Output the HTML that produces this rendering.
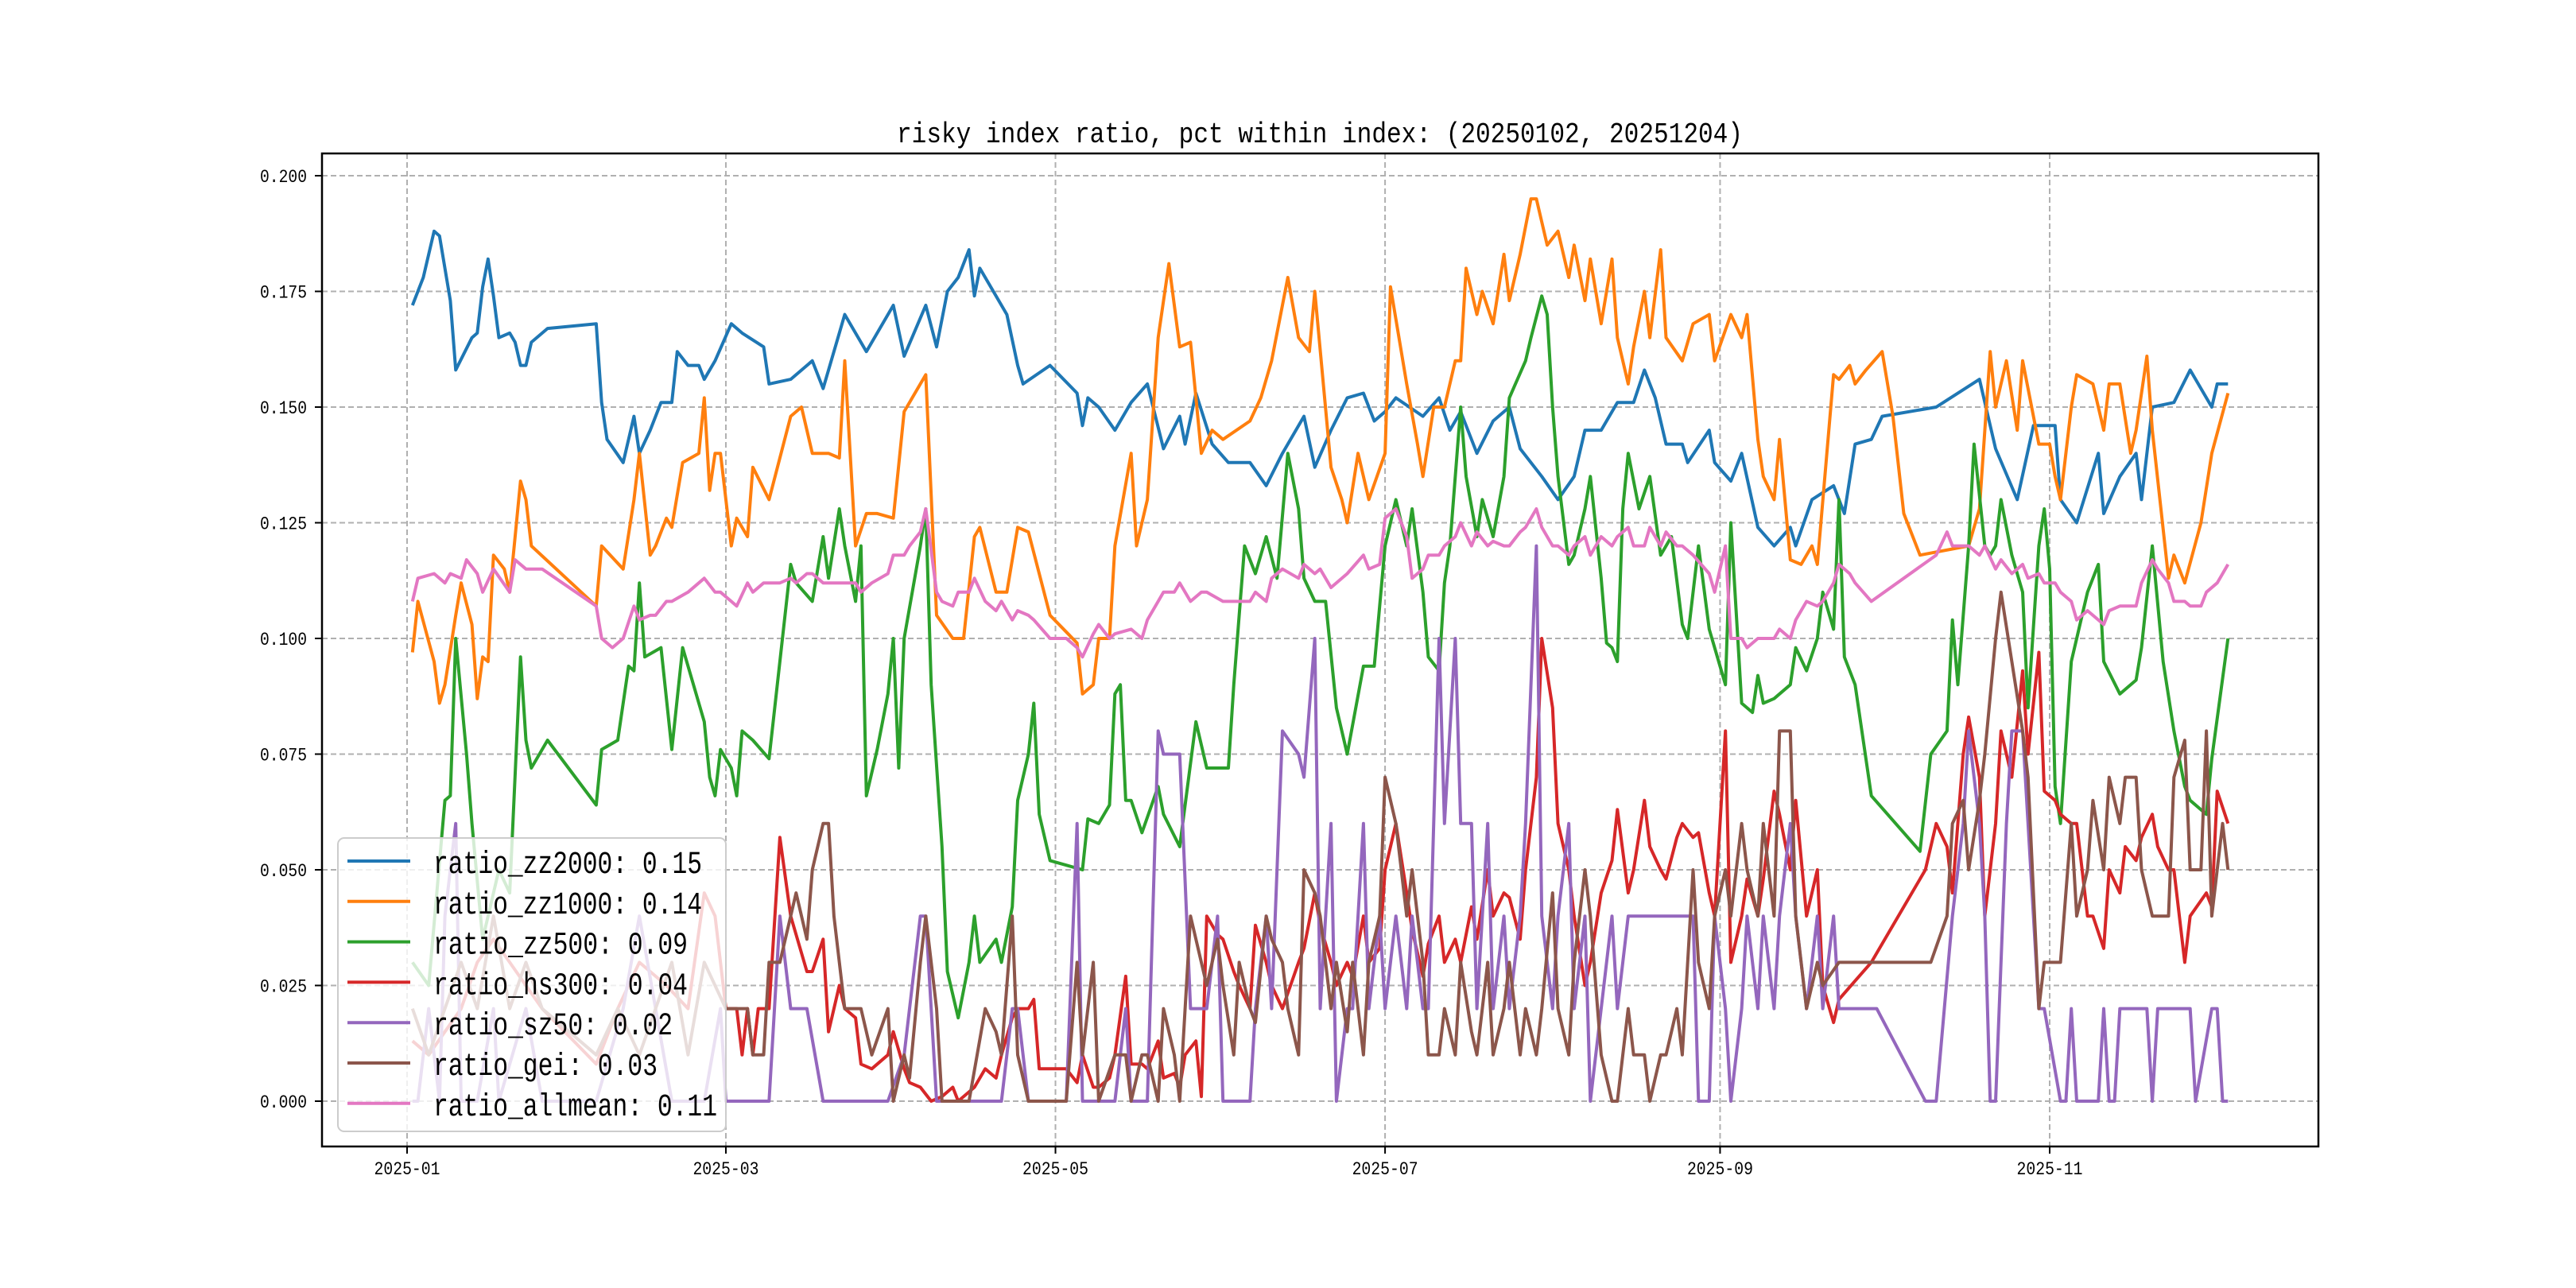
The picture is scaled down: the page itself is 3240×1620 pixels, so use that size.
<!DOCTYPE html>
<html><head><meta charset="utf-8">
<style>
html,body{margin:0;padding:0;background:#fff;}
svg{display:block;}
text{font-family:"Liberation Mono","Noto Sans CJK SC",monospace;fill:#000;}
</style></head>
<body>
<svg id="chart" width="3240" height="1620" viewBox="0 0 3240 1620" xmlns="http://www.w3.org/2000/svg">
<rect x="0" y="0" width="3240" height="1620" fill="#fff"/>
<g id="grid"></g>
<g id="series"></g>
<rect x="405" y="193" width="2511" height="1249" fill="none" stroke="#000" stroke-width="2.5"/>
<g id="axes"></g>
<text x="1660" y="179" text-anchor="middle" font-size="36" textLength="1064" lengthAdjust="spacingAndGlyphs">risky index ratio, pct within index: (20250102, 20251204)</text>
<g id="legend"></g>
</svg>
<script>
// x values are day-of-year offsets from 2025-01-01
const monthTickDays = [0, 59, 120, 181, 243, 304];
const monthTickLabels = ["2025-01", "2025-03", "2025-05", "2025-07", "2025-09", "2025-11"];
const yTickValues = [0, 0.025, 0.05, 0.075, 0.1, 0.125, 0.15, 0.175, 0.2];
const yTickLabels = ["0.000", "0.025", "0.050", "0.075", "0.100", "0.125", "0.150", "0.175", "0.200"];
const seriesNames = ["ratio_zz2000", "ratio_zz1000", "ratio_zz500", "ratio_hs300", "ratio_sz50", "ratio_gei", "ratio_allmean"];
const legendValues = ["0.15", "0.14", "0.09", "0.04", "0.02", "0.03", "0.11"];

const zz2000Days = [1,3,5,6,8,9,12,13,14,15,16,17,19,20,21,22,23,26,35,36,37,40,42,43,45,47,49,50,52,54,55,57,60,62,66,67,71,75,77,81,85,90,92,96,98,100,102,104,105,106,111,113,114,119,124,125,126,128,131,134,137,140,143,144,146,149,152,156,159,162,166,168,171,174,177,179,181,183,188,191,193,195,198,201,204,206,210,213,216,218,221,224,227,229,231,233,236,237,241,242,245,247,250,253,256,257,260,264,266,268,271,273,283,291,294,298,301,305,306,309,313,314,317,320,321,323,327,330,334,335,337];
const zz2000Vals = [0.172,0.178,0.188,0.187,0.173,0.158,0.165,0.166,0.176,0.182,0.174,0.165,0.166,0.164,0.159,0.159,0.164,0.167,0.168,0.151,0.143,0.138,0.148,0.14,0.145,0.151,0.151,0.162,0.159,0.159,0.156,0.16,0.168,0.166,0.163,0.155,0.156,0.16,0.154,0.17,0.162,0.172,0.161,0.172,0.163,0.175,0.178,0.184,0.174,0.18,0.17,0.159,0.155,0.159,0.153,0.146,0.152,0.15,0.145,0.151,0.155,0.141,0.148,0.142,0.153,0.142,0.138,0.138,0.133,0.14,0.148,0.137,0.145,0.152,0.153,0.147,0.149,0.152,0.148,0.152,0.145,0.149,0.14,0.147,0.15,0.141,0.135,0.13,0.135,0.145,0.145,0.151,0.151,0.158,0.152,0.142,0.142,0.138,0.145,0.138,0.134,0.14,0.124,0.12,0.124,0.12,0.13,0.133,0.127,0.142,0.143,0.148,0.15,0.156,0.141,0.13,0.146,0.146,0.13,0.125,0.14,0.127,0.135,0.14,0.13,0.15,0.151,0.158,0.15,0.155,0.155];

const zz1000Days = [1,2,5,6,7,9,10,12,13,14,15,16,18,19,21,22,23,35,36,40,42,43,45,46,48,49,51,54,55,56,57,58,60,61,63,64,67,71,73,75,78,80,81,83,85,87,90,92,95,96,98,101,103,105,106,109,111,113,115,119,124,125,127,128,130,131,134,135,137,139,141,143,145,147,149,151,156,158,160,163,165,167,168,171,173,174,176,178,181,182,185,187,188,190,192,194,195,196,198,199,201,203,204,206,208,209,211,213,215,216,218,219,221,222,223,224,226,227,229,230,232,233,236,238,241,242,245,247,248,250,251,253,254,256,258,260,261,264,265,267,268,270,273,275,277,280,289,291,293,294,296,298,299,301,302,304,305,306,308,309,312,314,315,317,319,320,322,323,326,327,329,332,334,337];
const zz1000Vals = [0.097,0.108,0.095,0.086,0.09,0.105,0.112,0.103,0.087,0.096,0.095,0.118,0.115,0.11,0.134,0.13,0.12,0.107,0.12,0.115,0.13,0.14,0.118,0.12,0.126,0.124,0.138,0.14,0.152,0.132,0.14,0.14,0.12,0.126,0.122,0.137,0.13,0.148,0.15,0.14,0.14,0.139,0.16,0.12,0.127,0.127,0.126,0.149,0.155,0.157,0.105,0.1,0.1,0.122,0.124,0.11,0.11,0.124,0.123,0.105,0.099,0.088,0.09,0.1,0.1,0.12,0.14,0.12,0.13,0.165,0.181,0.163,0.164,0.14,0.145,0.143,0.147,0.152,0.16,0.178,0.165,0.162,0.175,0.137,0.13,0.125,0.14,0.13,0.14,0.176,0.155,0.142,0.135,0.15,0.15,0.16,0.16,0.18,0.17,0.175,0.168,0.183,0.173,0.183,0.195,0.195,0.185,0.188,0.178,0.185,0.173,0.182,0.168,0.175,0.182,0.165,0.155,0.163,0.175,0.165,0.184,0.165,0.16,0.168,0.17,0.16,0.17,0.165,0.17,0.143,0.135,0.13,0.143,0.117,0.116,0.12,0.116,0.157,0.156,0.159,0.155,0.158,0.162,0.148,0.127,0.118,0.12,0.128,0.162,0.15,0.16,0.145,0.16,0.148,0.142,0.142,0.135,0.13,0.15,0.157,0.155,0.145,0.155,0.155,0.14,0.145,0.161,0.145,0.113,0.118,0.112,0.125,0.14,0.153];

const zz500Days = [1,4,7,8,9,11,12,14,17,19,21,22,23,26,35,36,39,41,42,43,44,47,49,51,55,56,57,58,60,61,62,64,67,71,72,75,77,78,80,81,83,84,85,87,89,90,91,92,95,96,97,99,100,102,104,105,106,109,110,112,113,115,116,117,119,122,125,126,128,130,131,132,133,134,136,139,140,143,146,148,152,153,155,157,159,161,163,165,166,168,170,172,174,177,179,181,183,185,186,188,189,191,192,193,195,196,198,199,201,203,204,207,208,210,211,212,213,215,216,218,219,221,222,223,224,225,226,228,230,232,234,236,237,239,241,242,244,245,247,249,250,251,253,256,257,259,261,262,264,265,266,268,271,280,282,285,286,287,289,290,292,293,294,295,297,299,300,302,303,304,305,306,308,309,311,313,314,317,320,321,323,325,327,329,330,333,334,337];
const zz500Vals = [0.03,0.025,0.065,0.066,0.1,0.075,0.06,0.035,0.05,0.045,0.096,0.078,0.072,0.078,0.064,0.076,0.078,0.094,0.093,0.112,0.096,0.098,0.076,0.098,0.082,0.07,0.066,0.076,0.072,0.066,0.08,0.078,0.074,0.116,0.112,0.108,0.122,0.113,0.128,0.12,0.108,0.12,0.066,0.076,0.088,0.1,0.072,0.1,0.12,0.128,0.09,0.055,0.028,0.018,0.03,0.04,0.03,0.035,0.03,0.042,0.065,0.075,0.086,0.062,0.052,0.051,0.05,0.061,0.06,0.064,0.088,0.09,0.065,0.065,0.058,0.068,0.062,0.055,0.082,0.072,0.072,0.09,0.12,0.114,0.122,0.113,0.14,0.128,0.113,0.108,0.108,0.085,0.075,0.094,0.094,0.12,0.13,0.12,0.128,0.11,0.096,0.093,0.112,0.12,0.15,0.135,0.122,0.13,0.122,0.135,0.152,0.16,0.165,0.174,0.17,0.15,0.135,0.116,0.118,0.128,0.135,0.113,0.099,0.098,0.095,0.128,0.14,0.128,0.135,0.118,0.122,0.103,0.1,0.12,0.102,0.098,0.09,0.125,0.086,0.084,0.092,0.086,0.087,0.09,0.098,0.093,0.1,0.11,0.102,0.13,0.096,0.09,0.066,0.054,0.075,0.08,0.104,0.09,0.12,0.142,0.12,0.118,0.12,0.13,0.118,0.11,0.085,0.12,0.128,0.115,0.068,0.06,0.095,0.1,0.11,0.116,0.095,0.088,0.091,0.098,0.12,0.095,0.08,0.068,0.065,0.062,0.074,0.1];

const hs300Days = [1,4,7,10,13,16,19,22,25,35,39,43,48,52,55,57,59,61,62,63,64,65,67,69,71,74,75,77,78,80,81,83,84,86,89,90,92,93,95,97,99,101,102,104,105,107,109,110,112,113,115,116,117,119,122,124,125,127,128,130,131,133,134,136,137,139,140,142,143,144,146,147,148,150,151,153,154,156,157,159,160,162,165,166,168,169,171,172,174,175,177,178,180,181,183,185,186,188,189,191,192,194,195,197,198,200,201,203,204,206,207,209,210,212,213,215,216,218,219,221,223,224,226,227,229,230,232,233,235,236,238,239,241,242,244,245,247,248,250,251,253,254,256,257,259,261,262,264,265,268,271,281,283,285,286,288,289,291,292,294,295,297,299,300,302,303,305,306,308,309,311,312,314,315,317,318,320,321,323,324,326,327,329,330,333,334,335,337];
const hs300Vals = [0.013,0.01,0.015,0.02,0.03,0.035,0.03,0.025,0.02,0.008,0.02,0.03,0.025,0.02,0.045,0.04,0.02,0.02,0.01,0.02,0.01,0.02,0.02,0.057,0.04,0.028,0.028,0.035,0.015,0.025,0.02,0.018,0.008,0.007,0.01,0.015,0.007,0.004,0.003,0,0.001,0.003,0,0.002,0.003,0.007,0.005,0.01,0.018,0.02,0.02,0.022,0.007,0.007,0.007,0.004,0.01,0.003,0.003,0.005,0.01,0.027,0.008,0.008,0.007,0.013,0.005,0.006,0.003,0.01,0.013,0.001,0.04,0.036,0.035,0.028,0.025,0.02,0.038,0.03,0.025,0.02,0.03,0.033,0.045,0.038,0.03,0.025,0.03,0.027,0.04,0.03,0.033,0.05,0.06,0.045,0.037,0.027,0.034,0.04,0.03,0.035,0.03,0.042,0.035,0.05,0.04,0.045,0.044,0.035,0.05,0.07,0.1,0.085,0.06,0.05,0.04,0.025,0.03,0.045,0.052,0.063,0.045,0.05,0.065,0.055,0.05,0.048,0.057,0.06,0.057,0.058,0.045,0.04,0.08,0.03,0.04,0.048,0.04,0.048,0.067,0.062,0.05,0.065,0.04,0.05,0.025,0.017,0.022,0.026,0.03,0.05,0.06,0.055,0.045,0.075,0.083,0.07,0.04,0.06,0.08,0.07,0.093,0.075,0.097,0.067,0.065,0.062,0.06,0.06,0.04,0.04,0.033,0.05,0.045,0.055,0.052,0.057,0.062,0.055,0.05,0.05,0.03,0.04,0.045,0.042,0.067,0.06];

const sz50Days = [1,2,4,6,7,9,10,13,16,17,22,25,35,40,43,46,49,55,58,59,66,67,69,71,74,77,89,92,93,95,96,98,110,112,113,115,122,124,125,131,133,134,137,139,140,143,145,147,148,150,151,156,157,159,160,162,165,166,168,169,171,172,174,175,177,178,180,181,183,185,186,188,189,191,192,194,195,197,198,200,201,203,204,206,207,209,210,212,213,215,216,218,219,221,223,224,226,227,229,232,235,238,239,241,242,244,245,247,248,250,251,253,254,256,257,259,261,262,264,265,268,272,281,283,286,288,289,291,292,293,294,296,297,299,300,302,303,306,307,308,309,313,314,315,316,317,322,323,324,330,331,334,335,336,337];
const sz50Vals = [0,0,0.02,0,0.04,0.06,0,0,0.02,0,0.02,0,0,0.02,0.04,0.02,0,0,0.02,0,0,0,0.04,0.02,0.02,0,0,0.01,0.02,0.04,0.04,0,0,0.02,0.02,0,0,0.06,0,0,0.02,0,0,0.08,0.075,0.075,0.02,0.02,0.02,0.04,0,0,0.02,0.04,0.02,0.08,0.075,0.07,0.1,0.02,0.06,0,0.02,0.02,0.06,0.02,0.04,0.02,0.04,0.02,0.04,0.02,0.02,0.1,0.06,0.1,0.06,0.06,0.02,0.06,0.02,0.04,0.02,0.04,0.06,0.12,0.04,0.02,0.04,0.06,0.02,0.04,0,0.02,0.04,0.02,0.04,0.04,0.04,0.04,0.04,0.04,0,0,0.04,0.02,0,0.02,0.04,0.02,0.04,0.02,0.04,0.06,0.04,0.02,0.04,0.02,0.04,0.02,0.02,0.02,0,0,0.04,0.06,0.08,0.06,0.04,0,0,0.06,0.08,0.08,0.06,0.02,0.02,0,0,0.02,0,0,0.02,0,0,0.02,0.02,0,0.02,0.02,0,0.02,0.02,0,0];

const geiDays = [1,4,7,10,13,16,19,22,25,35,39,43,46,49,52,55,59,61,63,64,66,67,69,71,72,74,75,77,78,79,81,83,84,86,89,90,92,93,95,96,98,99,102,104,107,109,110,112,113,115,119,122,124,125,127,128,131,133,134,136,137,139,140,142,143,145,147,148,150,151,153,154,156,157,159,160,162,163,165,166,168,169,171,172,174,175,177,178,180,181,183,185,186,188,189,191,192,194,195,197,198,200,201,203,204,206,207,209,210,212,213,215,216,218,219,221,223,224,226,227,229,230,232,233,235,236,238,239,241,242,244,245,247,248,250,251,253,254,256,257,259,261,262,265,272,282,285,286,288,289,291,292,294,295,297,299,300,302,303,306,308,309,311,312,314,315,317,318,320,321,323,324,326,327,329,330,332,333,334,336,337];
const geiVals = [0.02,0.01,0.02,0.03,0.02,0.04,0.02,0.03,0.02,0.01,0.02,0.01,0.02,0.03,0.01,0.03,0.02,0.02,0.02,0.01,0.01,0.03,0.03,0.04,0.045,0.035,0.05,0.06,0.06,0.04,0.02,0.02,0.02,0.01,0.02,0,0.01,0.005,0.03,0.04,0.02,0,0,0,0.02,0.015,0.01,0.04,0.01,0,0,0,0.03,0.01,0.03,0,0.01,0.01,0,0.01,0.01,0,0.02,0.01,0,0.04,0.03,0.025,0.035,0.025,0.01,0.03,0.02,0.017,0.04,0.035,0.03,0.02,0.01,0.05,0.045,0.04,0.02,0.03,0.015,0.03,0.01,0.03,0.04,0.07,0.06,0.04,0.05,0.03,0.01,0.01,0.02,0.01,0.03,0.015,0.01,0.03,0.01,0.02,0.03,0.01,0.02,0.01,0.02,0.045,0.02,0.01,0.03,0.05,0.04,0.01,0,0,0.02,0.01,0.01,0,0.01,0.01,0.02,0.01,0.05,0.03,0.02,0.04,0.05,0.04,0.06,0.05,0.04,0.06,0.04,0.08,0.08,0.04,0.02,0.03,0.025,0.03,0.03,0.03,0.04,0.06,0.065,0.05,0.065,0.075,0.1,0.11,0.095,0.08,0.07,0.02,0.03,0.03,0.06,0.04,0.05,0.065,0.05,0.07,0.06,0.07,0.07,0.05,0.04,0.04,0.04,0.07,0.078,0.05,0.05,0.08,0.04,0.06,0.05];

const allmeanDays = [1,2,5,7,8,10,11,13,14,16,19,20,22,25,35,36,38,40,42,43,45,46,48,49,52,55,57,58,60,61,63,64,66,69,71,72,74,75,77,80,83,84,86,89,90,92,93,95,96,98,99,101,102,104,105,107,109,110,112,113,115,116,119,122,124,125,127,128,130,131,134,136,137,139,140,142,143,145,147,148,151,153,156,157,159,160,162,165,166,168,169,171,174,177,178,180,181,183,185,186,188,189,191,192,194,195,197,198,200,201,203,204,206,207,209,210,212,213,215,216,218,219,221,223,224,226,227,229,230,232,233,235,236,238,241,242,244,245,247,248,250,253,254,256,257,259,261,262,264,265,267,268,271,283,285,286,289,291,292,294,295,297,299,300,302,303,305,306,308,309,311,312,314,315,317,318,320,321,323,324,326,327,329,330,332,333,335,337];
const allmeanVals = [0.108,0.113,0.114,0.112,0.114,0.113,0.117,0.114,0.11,0.115,0.11,0.117,0.115,0.115,0.107,0.1,0.098,0.1,0.107,0.104,0.105,0.105,0.108,0.108,0.11,0.113,0.11,0.11,0.108,0.107,0.112,0.11,0.112,0.112,0.113,0.112,0.114,0.114,0.112,0.112,0.112,0.11,0.112,0.114,0.118,0.118,0.12,0.123,0.128,0.11,0.108,0.107,0.11,0.11,0.113,0.108,0.106,0.108,0.104,0.106,0.105,0.104,0.1,0.1,0.098,0.096,0.101,0.103,0.1,0.101,0.102,0.1,0.104,0.108,0.11,0.11,0.112,0.108,0.11,0.11,0.108,0.108,0.108,0.11,0.108,0.113,0.115,0.113,0.116,0.114,0.115,0.111,0.114,0.118,0.115,0.116,0.126,0.128,0.122,0.113,0.115,0.118,0.118,0.12,0.122,0.125,0.12,0.123,0.12,0.121,0.12,0.12,0.123,0.124,0.128,0.124,0.12,0.12,0.118,0.12,0.122,0.118,0.122,0.12,0.122,0.124,0.12,0.12,0.124,0.12,0.123,0.12,0.12,0.118,0.114,0.11,0.12,0.1,0.1,0.098,0.1,0.1,0.102,0.1,0.104,0.108,0.107,0.108,0.112,0.116,0.114,0.112,0.108,0.118,0.123,0.12,0.12,0.118,0.12,0.115,0.117,0.114,0.116,0.113,0.114,0.112,0.112,0.11,0.108,0.104,0.106,0.105,0.103,0.106,0.107,0.107,0.107,0.112,0.117,0.115,0.112,0.108,0.108,0.107,0.107,0.11,0.112,0.116];

const seriesDays = [zz2000Days, zz1000Days, zz500Days, hs300Days, sz50Days, geiDays, allmeanDays];
const seriesVals = [zz2000Vals, zz1000Vals, zz500Vals, hs300Vals, sz50Vals, geiVals, allmeanVals];
const seriesColors = ["#1f77b4", "#ff7f0e", "#2ca02c", "#d62728", "#9467bd", "#8c564b", "#e377c2"];

const NS = "http://www.w3.org/2000/svg";
const PLOT = {left: 405, right: 2916, top: 193, bottom: 1442};
function xScale(day) { return 512 + day * (2066 / 304); }
function yScale(v) { return 1385 - v * 5820; }
function mk(tag, attrs, parent) {
  const el = document.createElementNS(NS, tag);
  for (const k in attrs) el.setAttribute(k, attrs[k]);
  parent.appendChild(el);
  return el;
}

const grid = document.getElementById("grid");
const axes = document.getElementById("axes");
yTickValues.forEach((v, i) => {
  const y = yScale(v);
  const g = mk("line", {x1: PLOT.left, x2: PLOT.right, y1: y, y2: y, stroke: "#b0b0b0", "stroke-width": 2, "stroke-dasharray": "7,4"}, grid);
  
  
  const t = mk("line", {x1: PLOT.left - 9, x2: PLOT.left, y1: y, y2: y, stroke: "#000", "stroke-width": 2}, axes);
  
  
  const lb = mk("text", {x: 386, y: y + 8, "text-anchor": "end", "font-size": 23, textLength: 59, lengthAdjust: "spacingAndGlyphs"}, axes);
  lb.textContent = yTickLabels[i];
  
  
});
monthTickDays.forEach((d, i) => {
  const x = xScale(d);
  const g = mk("line", {x1: x, x2: x, y1: PLOT.top, y2: PLOT.bottom, stroke: "#b0b0b0", "stroke-width": 2, "stroke-dasharray": "7,4"}, grid);
  
  
  const t = mk("line", {x1: x, x2: x, y1: PLOT.bottom, y2: PLOT.bottom + 9, stroke: "#000", "stroke-width": 2}, axes);
  
  
  const lb = mk("text", {x: x, y: 1477, "text-anchor": "middle", "font-size": 23, textLength: 83, lengthAdjust: "spacingAndGlyphs"}, axes);
  lb.textContent = monthTickLabels[i];
  
  
});

const seriesG = document.getElementById("series");
seriesVals.forEach((vals, s) => {
  const days = seriesDays[s];
  const pts = vals.map((v, i) => xScale(days[i]).toFixed(1) + "," + yScale(v).toFixed(1)).join(" ");
  const pl = mk("polyline", {points: pts, fill: "none", stroke: seriesColors[s], "stroke-width": 4, "stroke-linejoin": "round"}, seriesG);
  
  
});

const legend = document.getElementById("legend");
const box = mk("rect", {x: 425, y: 1054, width: 488, height: 369, rx: 8, fill: "#fff", "fill-opacity": 0.8, stroke: "#cccccc", "stroke-width": 2}, legend);


seriesNames.forEach((name, s) => {
  const cy = 1083 + s * 50.8;
  const ln = mk("line", {x1: 437, x2: 516, y1: cy, y2: cy, stroke: seriesColors[s], "stroke-width": 4}, legend);
  
  
  const label = name + ": " + legendValues[s];
  const tx = mk("text", {x: 545, y: cy + 15, "font-size": 40, textLength: (label.length * 18.8).toFixed(0), lengthAdjust: "spacingAndGlyphs"}, legend);
  tx.textContent = label;
  
  
});
</script>
</body></html>
